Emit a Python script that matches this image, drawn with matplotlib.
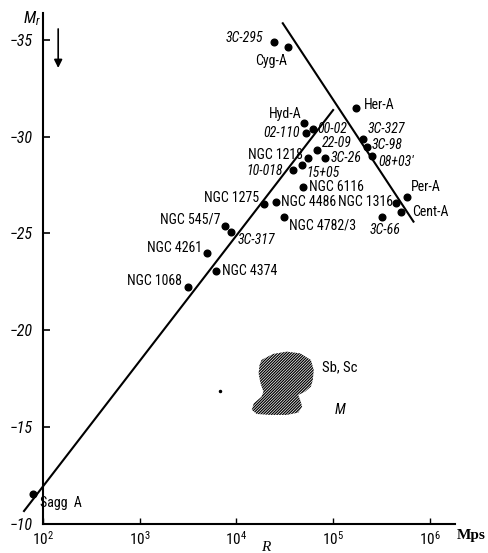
import numpy as np
import matplotlib
matplotlib.use('Agg')
import matplotlib.pyplot as plt
from matplotlib.patches import Polygon

# radio galaxies: log10(R / Mps) and absolute magnitude M_r
names = ['3C-295', 'Cyg-A', 'Hyd-A', '00-02', '02-110', '22-09', 'NGC 1218',
         '3C-26', '10-018', '15+05', 'NGC 6116', 'Her-A', '3C-327', '3C-98',
         "08+03'", 'Per-A', 'NGC 1316', 'Cent-A', '3C-66', 'NGC 1275',
         'NGC 4486', 'NGC 4782/3', 'NGC 545/7', '3C-317', 'NGC 4261',
         'NGC 4374', 'NGC 1068', 'Sagg  A']
log_r = [4.39, 4.53, 4.70, 4.79, 4.72, 4.83, 4.74,
         4.92, 4.59, 4.68, 4.69, 5.24, 5.31, 5.35,
         5.40, 5.76, 5.65, 5.70, 5.51, 4.29,
         4.41, 4.49, 3.88, 3.94, 3.70,
         3.79, 3.50, 1.90]
mag = [-34.9, -34.6, -30.7, -30.4, -30.2, -29.3, -28.9,
       -28.9, -28.25, -28.55, -27.4, -31.45, -29.9, -29.45,
       -29.0, -26.9, -26.55, -26.1, -25.85, -26.5,
       -26.6, -25.85, -25.4, -25.1, -24.0,
       -23.05, -22.25, -11.55]

# the two boundary lines (log R, M)
left_line_r = [1.807, 5.00]
left_line_m = [-10.67, -31.37]
right_line_r = [4.48, 5.83]
right_line_m = [-35.85, -25.61]

# region of Sb, Sc spirals
blob_r = [4.26, 4.38, 4.52, 4.66, 4.77, 4.80, 4.79, 4.77, 4.71, 4.64, 4.66, 4.68,
          4.64, 4.52, 4.35, 4.21, 4.16, 4.18, 4.26, 4.28, 4.25, 4.23, 4.24]
blob_m = [-18.47, -18.78, -18.90, -18.81, -18.47, -17.95, -17.43, -17.09, -16.83,
          -16.66, -16.40, -16.06, -15.75, -15.63, -15.63, -15.68, -15.89, -16.23,
          -16.57, -16.83, -17.26, -17.78, -18.21]

y_ticks = [-35, -30, -25, -20, -15, -10]
x_ticks = [2, 3, 4, 5, 6]

# label placement: (dx, dy) in pixels from the dot, alignment
label_pos = [(-11, 4, 'right'), (-17, -14, 'center'), (-19, 9, 'center'), (5, 0, 'left'),
             (-6, 0, 'right'), (5, 7, 'left'), (-5, 3, 'right'), (5, 0, 'left'),
             (-11, -1, 'right'), (4, -8, 'left'), (6, 0, 'left'), (8, 3, 'left'),
             (4, 10, 'left'), (5, 2, 'left'), (6, -6, 'left'), (4, 10, 'left'),
             (-3, 1, 'right'), (11, 0, 'left'), (3, -13, 'center'), (-5, 6, 'right'),
             (5, 0, 'left'), (5, -9, 'left'), (-4, 6, 'right'), (7, -8, 'left'),
             (-5, 5, 'right'), (6, 0, 'left'), (-6, 6, 'right'), (7, -9, 'left')]

narrow = 'Roboto Condensed'
serif = 'Liberation Serif'
plt.rcParams['font.family'] = [narrow, 'DejaVu Sans']
plt.rcParams['mathtext.fontset'] = 'custom'
plt.rcParams['mathtext.it'] = narrow + ':italic'
plt.rcParams['mathtext.rm'] = narrow
plt.rcParams['hatch.linewidth'] = 0.9

fig = plt.figure(figsize=(4.89, 5.53), dpi=100)
ax = fig.add_axes([42.7 / 489, 29 / 553, 412.3 / 489, 511 / 553])
ax.set_xscale('log')
ax.set_xlim(1e2, 10 ** 6.259)
ax.set_ylim(-10, -36.38)

for s in ['top', 'right']:
    ax.spines[s].set_visible(False)
for s in ['left', 'bottom']:
    ax.spines[s].set_linewidth(1.5)

ax.set_yticks(y_ticks)
ax.set_yticklabels(['\u2212' + str(-v) for v in y_ticks], fontstyle='italic', fontsize=11.5)
ax.set_xticks([10.0 ** k for k in x_ticks])
ax.set_xticklabels([r'$\mathit{10^{%d}}$' % k for k in x_ticks], fontsize=11)
ax.minorticks_off()
ax.tick_params(axis='y', direction='in', length=5, width=1.2, pad=7)
ax.tick_params(axis='x', direction='in', length=4, width=1.0, pad=4)

R = 10 ** np.array(log_r)
ax.plot(10 ** np.array(left_line_r), left_line_m, color='black', lw=1.5, clip_on=False)
ax.plot(10 ** np.array(right_line_r), right_line_m, color='black', lw=1.5, clip_on=False)
ax.plot(R, mag, 'o', color='black', ms=4.8, clip_on=False, zorder=3)

for name, x, y, (dx, dy, ha) in zip(names, R, mag, label_pos):
    italic = name[0].isdigit()
    ax.annotate(name, (x, y), xytext=(dx, dy), textcoords='offset pixels',
                ha=ha, va='center', fontsize=10,
                fontstyle='italic' if italic else 'normal', annotation_clip=False)

blob = Polygon(np.column_stack([10 ** np.array(blob_r), blob_m]), closed=True,
               facecolor='white', edgecolor='black', lw=0, hatch='/' * 12)
ax.add_patch(blob)
ax.text(10 ** 5.07, -18.1, 'Sb, Sc', fontsize=10.5, ha='center', va='center')
ax.text(10 ** 5.07, -15.9, 'M', fontsize=10.5, fontstyle='italic', ha='center', va='center')
ax.plot([10 ** 3.83], [-16.87], 'o', color='black', ms=1.5)

# axis names and the arrow
ax.text(10 ** 1.886, -36.1, r'$\mathit{M_r}$', fontsize=12, ha='center', va='center', clip_on=False)
ax.annotate('', xy=(10 ** 2.16, -33.4), xytext=(10 ** 2.16, -35.7),
            arrowprops=dict(arrowstyle='-|>', color='black', lw=1.2, mutation_scale=12))
ax.text(10 ** 4.30, -9.1, 'R', fontsize=11, family=serif, fontstyle='italic',
        ha='center', va='top', clip_on=False)
ax.text(10 ** 6.43, -9.4, 'Mps', fontsize=11, family=serif, fontweight='bold',
        ha='center', va='center', clip_on=False)

fig.savefig('out.png', dpi=100)
